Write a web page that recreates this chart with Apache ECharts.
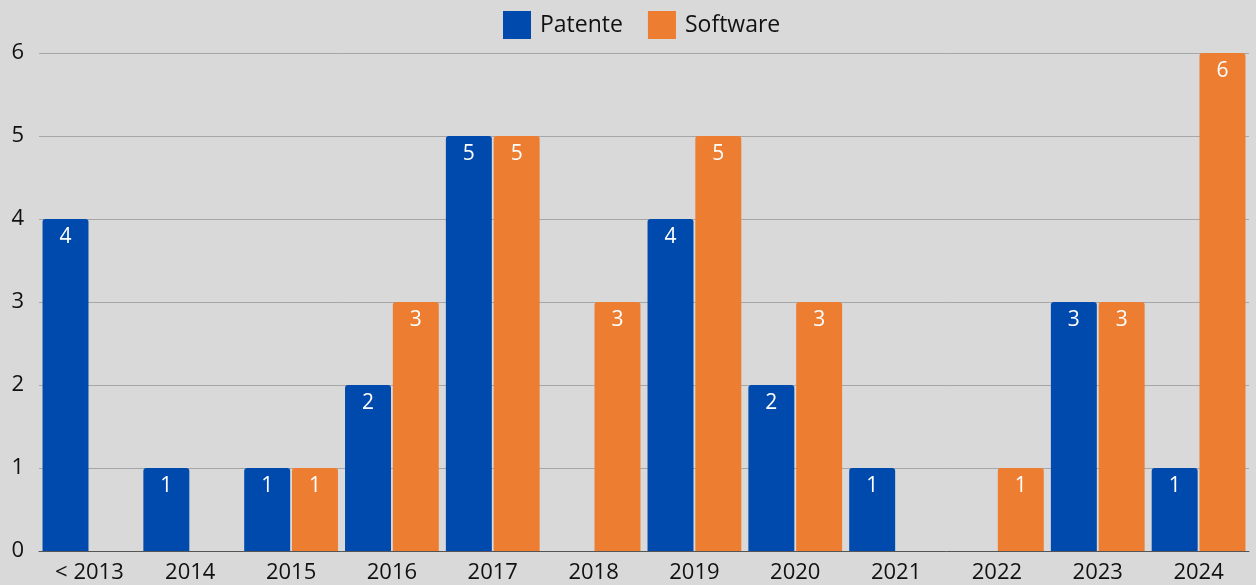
<!DOCTYPE html>
<html>
<head>
    <meta charset="utf-8" />
    <title>Patente / Software</title>
    <style>
    html, body { margin: 0; padding: 0; background: #d9d9d9; }
    #chart { width: 1256px; height: 585px; }
    </style>
    <script src="https://cdn.jsdelivr.net/npm/echarts@6/dist/echarts.min.js"></script>
</head>
<body>
    <div id="chart"></div>
    <script>
    // categorias (anos) e valores das series
    var years = ['< 2013', '2014', '2015', '2016', '2017', '2018', '2019', '2020', '2021', '2022', '2023', '2024'];
    var patente = [4, 1, 1, 2, 5, 0, 4, 2, 1, 0, 3, 1];
    var software = [0, 0, 1, 3, 5, 3, 5, 3, 0, 1, 3, 6];

    var font = '"Open Sans", "Noto Sans", sans-serif';

    var barLabel = {
        show: true,
        position: 'insideTop',
        distance: 8,
        color: '#ffffff',
        fontSize: 21,
        fontFamily: font,
        formatter: function(p) { return p.value ? p.value : ''; }
    };

    var option = {
        backgroundColor: '#d9d9d9',
        legend: {
            top: 6,
            left: 498,
            itemWidth: 28,
            itemHeight: 28,
            itemGap: 25,
            icon: 'rect',
            textStyle: { fontSize: 23, fontFamily: font, color: '#111111', padding: [0, 0, 0, 4] },
            data: ['Patente', 'Software']
        },
        grid: { left: 39, right: 7, top: 53, bottom: 34 },
        xAxis: {
            type: 'category',
            data: years,
            axisTick: { show: false },
            axisLine: { lineStyle: { color: '#555555', width: 1 } },
            axisLabel: { fontSize: 22, fontFamily: font, color: '#111111', margin: 11, interval: 0 }
        },
        yAxis: {
            type: 'value',
            min: 0,
            max: 6,
            interval: 1,
            splitLine: { lineStyle: { color: '#a6a6a6', width: 1 } },
            axisLabel: { fontSize: 22, fontFamily: font, color: '#111111', margin: 15 }
        },
        series: [{
            name: 'Patente',
            type: 'bar',
            data: patente,
            barGap: '4%',
            barCategoryGap: '7%',
            itemStyle: { color: '#004aad', borderRadius: [3, 3, 0, 0] },
            label: barLabel
        }, {
            name: 'Software',
            type: 'bar',
            data: software,
            itemStyle: { color: '#ed7d31', borderRadius: [3, 3, 0, 0] },
            label: barLabel
        }]
    };

    var chart = echarts.init(document.getElementById('chart'));
    chart.setOption(option);
    </script>
</body>
</html>
